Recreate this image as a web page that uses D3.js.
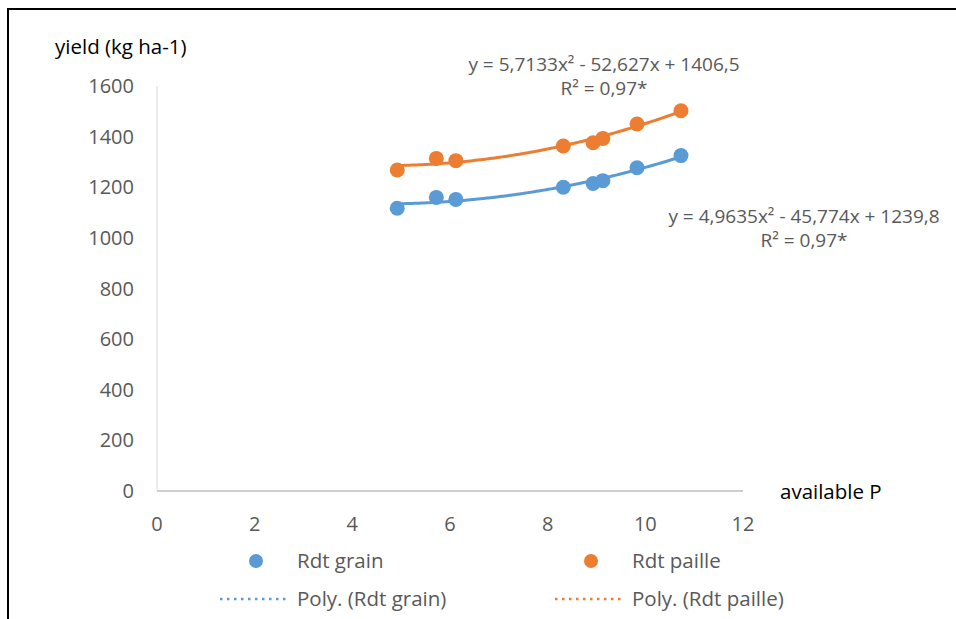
<!DOCTYPE html>
<html>
<head>
<meta charset="utf-8">
<script src="https://cdn.jsdelivr.net/npm/d3@7"></script>
<style>
  body { margin: 0; background: #fff; }
  svg { font-family: "Open Sans", Lato, sans-serif; }
</style>
</head>
<body>
<div id="chart"></div>
<script>
// data
var availableP = [4.92, 5.72, 6.12, 8.32, 8.93, 9.13, 9.83, 10.73]
var rdtGrain = [1117, 1160, 1152, 1200, 1215, 1226, 1277, 1325]
var rdtPaille = [1268, 1314, 1305, 1363, 1376, 1393, 1450, 1502]

// trendline coefficients as printed (a, b, c) for y = a x^2 + b x + c
var coefGrain = [4.9635, -45.774, 1239.8]
var coefPaille = [5.7133, -52.627, 1406.5]

var xTicks = [0, 2, 4, 6, 8, 10, 12]
var yTicks = [0, 200, 400, 600, 800, 1000, 1200, 1400, 1600]

var eqGrain = ["y = 4,9635x² - 45,774x + 1239,8", "R² = 0,97*"]
var eqPaille = ["y = 5,7133x² - 52,627x + 1406,5", "R² = 0,97*"]

var blue = "#5b9bd5"
var orange = "#ed7d31"
var grey = "#595959"

var width = 956, height = 619

var svg = d3.select("#chart").append("svg")
    .attr("width", width)
    .attr("height", height)

// outer frame
svg.append("path")
    .attr("d", "M8,620 L8,9 L960,9")
    .attr("fill", "none")
    .attr("stroke", "#000")
    .attr("stroke-width", 2)

var x = d3.scaleLinear().domain([0, 12]).range([157, 743])
var y = d3.scaleLinear().domain([0, 1600]).range([491, 86])

// axes lines
svg.append("line")
    .attr("x1", x(0)).attr("x2", x(12))
    .attr("y1", y(0)).attr("y2", y(0))
    .attr("stroke", "#bfbfbf").attr("stroke-width", 1.3)
svg.append("line")
    .attr("x1", x(0)).attr("x2", x(0))
    .attr("y1", y(0)).attr("y2", y(1600))
    .attr("stroke", "#d9d9d9").attr("stroke-width", 1)

svg.selectAll(".xt")
    .data(xTicks)
    .enter()
    .append("text")
    .attr("x", function (d) { return x(d) })
    .attr("y", 524)
    .attr("dy", "0.35em")
    .attr("text-anchor", "middle")
    .attr("fill", grey)
    .style("font-size", "20px")
    .text(function (d) { return d })

svg.selectAll(".yt")
    .data(yTicks)
    .enter()
    .append("text")
    .attr("x", 134)
    .attr("y", function (d) { return y(d) })
    .attr("dy", "0.35em")
    .attr("text-anchor", "end")
    .attr("fill", grey)
    .style("font-size", "20px")
    .text(function (d) { return d })

svg.append("text")
    .attr("x", 55).attr("y", 47).attr("dy", "0.35em")
    .style("font-size", "20.5px")
    .text("yield (kg ha-1)")
svg.append("text")
    .attr("x", 780).attr("y", 492).attr("dy", "0.35em")
    .style("font-size", "20.5px")
    .text("available P")

// trendlines
function poly(c) {
    return function (v) { return c[0] * v * v + c[1] * v + c[2] }
}
var xs = d3.range(d3.min(availableP), d3.max(availableP) + 0.001, 0.05)
var line = d3.line()
    .x(function (d) { return x(d[0]) })
    .y(function (d) { return y(d[1]) })
    .curve(d3.curveMonotoneX)

var series = [
    { values: rdtGrain, coef: coefGrain, color: blue },
    { values: rdtPaille, coef: coefPaille, color: orange }
]

series.forEach(function (s) {
    var f = poly(s.coef)
    svg.append("path")
        .attr("d", line(xs.map(function (v) { return [v, f(v)] })))
        .attr("fill", "none")
        .attr("stroke", s.color)
        .attr("stroke-width", 3)
    svg.selectAll(null)
        .data(s.values)
        .enter()
        .append("circle")
        .attr("cx", function (d, i) { return x(availableP[i]) })
        .attr("cy", function (d) { return y(d) })
        .attr("r", 7.5)
        .attr("fill", s.color)
})

// equation labels
function eqLabel(lines, cx, cy) {
    svg.selectAll(null)
        .data(lines)
        .enter()
        .append("text")
        .attr("x", cx)
        .attr("y", function (d, i) { return cy + i * 24 })
        .attr("dy", "0.35em")
        .attr("text-anchor", "middle")
        .attr("fill", grey)
        .style("font-size", "19px")
        .text(function (d) { return d })
}
eqLabel(eqPaille, 604, 64)
eqLabel(eqGrain, 804, 216)

// legend
var legend = [
    { label: "Rdt grain", color: blue, x: 256, row: 0 },
    { label: "Rdt paille", color: orange, x: 591, row: 0 },
    { label: "Poly. (Rdt grain)", color: blue, x: 256, row: 1 },
    { label: "Poly. (Rdt paille)", color: orange, x: 591, row: 1 }
]
legend.forEach(function (l) {
    var ly = l.row === 0 ? 561 : 599
    if (l.row === 0) {
        svg.append("circle").attr("cx", l.x).attr("cy", ly).attr("r", 7).attr("fill", l.color)
    } else {
        svg.append("line")
            .attr("x1", l.x - 36).attr("x2", l.x + 31)
            .attr("y1", ly).attr("y2", ly)
            .attr("stroke", l.color)
            .attr("stroke-width", 2.5)
            .attr("stroke-dasharray", "2.5,4.5")
    }
    svg.append("text")
        .attr("x", l.x + 41)
        .attr("y", ly)
        .attr("dy", "0.35em")
        .attr("fill", grey)
        .style("font-size", "20.5px")
        .text(l.label)
})
</script>
</body>
</html>
